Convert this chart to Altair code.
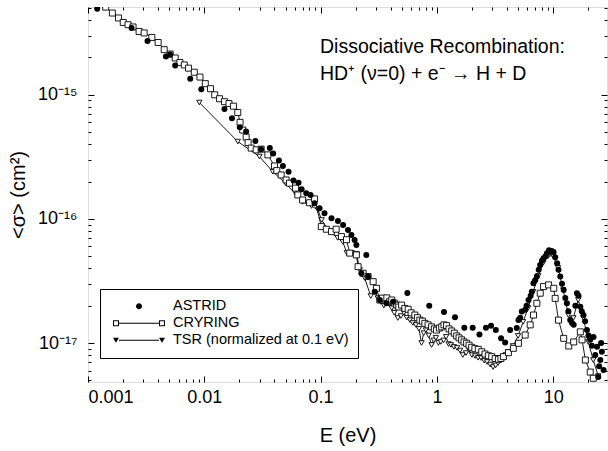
import altair as alt
import pandas as pd

# ---------------- data ----------------
E_astrid = [0.00120, 0.00237, 0.00325, 0.00468, 0.00509, 0.00562, 0.00757, 0.00942,
            0.0149, 0.0173, 0.0202, 0.0229, 0.0275, 0.0308, 0.0366, 0.0391, 0.0438,
            0.0474, 0.0530, 0.0585, 0.0646, 0.0686, 0.0753, 0.0820, 0.0887, 0.0980,
            0.108, 0.124, 0.141, 0.156, 0.172, 0.184, 0.196, 0.203, 0.224, 0.247,
            0.256, 0.292, 0.323, 0.368, 0.420, 0.557, 0.859, 1.15, 1.43, 1.72, 2.03,
            2.32, 2.64, 2.92, 3.21, 3.56, 3.86, 4.26, 4.86, 5.02, 5.37, 5.74, 6.13,
            6.55, 6.76, 7.23, 7.72, 8.25, 8.83, 9.42, 10.07, 10.8, 11.5, 12.3, 13.1,
            14.0, 15.0, 16.0, 17.1, 18.2, 19.5, 20.8, 22.2, 23.8, 25.4, 27.1, 24.4,
            5.2, 5.9, 6.4, 7.0, 7.5, 8.0, 8.6, 9.2, 9.7, 10.4, 11.1, 11.9, 12.7,
            13.5, 14.5, 15.5, 16.5, 17.6, 18.8, 20.1, 21.5, 23.0, 24.8, 26.2, 25.8]
sig_astrid = [4.94e-15, 3.45e-15, 2.72e-15, 2.04e-15, 2.11e-15, 1.72e-15, 1.35e-15, 1.11e-15,
              7.68e-16, 6.48e-16, 5.47e-16, 5.06e-16, 4.24e-16, 3.65e-16, 3.72e-16, 3.36e-16, 2.96e-16,
              2.67e-16, 2.40e-16, 2.04e-16, 1.96e-16, 1.73e-16, 1.61e-16, 1.56e-16, 1.34e-16, 1.22e-16,
              1.11e-16, 1.01e-16, 9.64e-17, 8.95e-17, 8.15e-17, 7.43e-17, 6.77e-17, 6.17e-17, 3.65e-17, 5.13e-17,
              3.43e-17, 2.59e-17, 2.22e-17, 2.09e-17, 2.15e-17, 2.53e-17, 2.00e-17, 1.78e-17, 1.61e-17, 1.33e-17, 1.33e-17,
              1.17e-17, 1.33e-17, 1.38e-17, 1.27e-17, 1.09e-17, 1.01e-17, 1.27e-17, 1.32e-17, 1.53e-17, 1.79e-17, 1.85e-17, 2.22e-17,
              2.59e-17, 3.03e-17, 3.43e-17, 4.26e-17, 4.82e-17, 5.28e-17, 5.45e-17, 5.42e-17, 4.40e-17, 3.43e-17, 2.67e-17, 2.09e-17,
              1.53e-17, 1.40e-17, 2.52e-17, 1.96e-17, 1.68e-17, 1.27e-17, 1.06e-17, 1.12e-17, 9.33e-18, 7.29e-18, 6.05e-18, 5.32e-18,
              1.6e-17, 2.0e-17, 2.4e-17, 3.2e-17, 3.9e-17, 4.6e-17, 5.0e-17, 5.6e-17, 5.5e-17, 4.9e-17, 3.9e-17, 3.0e-17, 2.3e-17,
              1.8e-17, 1.45e-17, 2.0e-17, 2.4e-17, 1.8e-17, 1.5e-17, 1.15e-17, 9.5e-18, 8.0e-18, 6.5e-18, 8.5e-18, 1.0e-17]

E_cryring = [0.00124, 0.00142, 0.00162, 0.00183, 0.00201, 0.00221, 0.00244, 0.00275, 0.00304, 0.00354,
             0.00401, 0.00452, 0.00509, 0.00562, 0.00617, 0.00673, 0.00732, 0.00820, 0.00918, 0.0102,
             0.0113, 0.0123, 0.0135, 0.0149, 0.0163, 0.0178, 0.0194, 0.0203, 0.0214, 0.0229,
             0.0238, 0.0253, 0.0279, 0.0308, 0.0352, 0.0401, 0.0420, 0.0458, 0.0505, 0.0540,
             0.0608, 0.0637, 0.0700, 0.0804, 0.0887, 0.1014, 0.112, 0.124, 0.136, 0.151,
             0.167, 0.178, 0.203, 0.210, 0.232, 0.256, 0.283, 0.302, 0.323, 0.371,
             0.409, 0.452, 0.497, 0.566, 0.646, 0.713, 0.788, 0.900, 0.993, 1.10,
             1.21, 1.34, 1.48, 1.63, 1.80, 1.99, 2.27, 2.59, 2.96, 3.38,
             3.73, 4.12, 4.54, 5.02, 5.74, 6.34, 6.77, 7.23, 7.73, 8.26,
             9.12, 10.1, 10.4, 11.1, 12.3, 13.6, 15.0, 17.1, 17.7, 18.9,
             20.8, 22.1,
             0.34, 0.39, 0.43, 0.47, 0.53, 0.60, 0.68, 0.75, 0.84, 0.95,
             1.05, 1.15, 1.27, 1.41, 1.55, 1.71, 1.89, 2.12, 2.43, 2.77,
             3.17, 3.55]
sig_cryring = [5.5e-15, 5.09e-15, 4.56e-15, 4.16e-15, 3.83e-15, 3.67e-15, 3.52e-15, 3.24e-15, 3.15e-15, 2.90e-15,
               2.64e-15, 2.31e-15, 2.13e-15, 1.98e-15, 1.82e-15, 1.74e-15, 1.64e-15, 1.52e-15, 1.39e-15, 1.23e-15,
               1.12e-15, 1.0e-15, 9.3e-16, 8.8e-16, 8.5e-16, 8.1e-16, 7.2e-16, 6.0e-16, 5.2e-16, 4.56e-16,
               4.12e-16, 3.72e-16, 3.60e-16, 3.65e-16, 3.28e-16, 2.67e-16, 2.45e-16, 2.26e-16, 2.06e-16, 1.94e-16,
               1.77e-16, 1.56e-16, 1.42e-16, 1.35e-16, 1.45e-16, 8.67e-17, 8.26e-17, 7.90e-17, 8.26e-17, 7.2e-17,
               6.8e-17, 5.3e-17, 5.13e-17, 4.12e-17, 3.65e-17, 3.43e-17, 3.12e-17, 2.76e-17, 2.22e-17, 2.31e-17,
               2.22e-17, 2.02e-17, 2.02e-17, 1.87e-17, 1.68e-17, 1.53e-17, 1.44e-17, 1.35e-17, 1.27e-17, 1.35e-17,
               1.38e-17, 1.25e-17, 1.14e-17, 1.06e-17, 9.95e-18, 9.23e-18, 8.89e-18, 8.15e-18, 7.76e-18, 7.39e-18,
               7.76e-18, 8.36e-18, 9.06e-18, 9.95e-18, 1.16e-17, 1.40e-17, 1.68e-17, 2.09e-17, 2.52e-17, 2.85e-17,
               2.94e-17, 2.76e-17, 2.29e-17, 1.53e-17, 1.09e-17, 9.46e-18, 1.02e-17, 1.23e-17, 1.06e-17, 7.29e-18,
               5.83e-18, 5.2e-18,
               2.3e-17, 2.15e-17, 2.1e-17, 1.95e-17, 1.9e-17, 1.75e-17, 1.6e-17, 1.5e-17, 1.4e-17, 1.3e-17,
               1.32e-17, 1.4e-17, 1.3e-17, 1.2e-17, 1.1e-17, 1.02e-17, 9.6e-18, 9.0e-18, 8.5e-18, 7.9e-18,
               7.5e-18, 7.5e-18]

E_tsr = [0.00906, 0.0194, 0.0298, 0.0388, 0.0499, 0.0618, 0.0700, 0.0835, 0.0950, 0.102,
         0.120, 0.140, 0.155, 0.168, 0.185, 0.204, 0.217, 0.239, 0.270, 0.298,
         0.329, 0.363, 0.409, 0.461, 0.520, 0.585, 0.659, 0.738, 0.804, 0.900,
         0.980, 1.08, 1.20, 1.32, 1.49, 1.67, 1.89, 2.13, 2.40, 2.70,
         3.04, 3.36, 3.71, 4.10, 4.52, 4.99, 5.51, 6.08, 6.72, 7.43,
         8.21, 9.06, 10.0, 11.0, 12.2, 13.5, 14.9, 16.4, 18.2, 20.0,
         22.1, 24.4,
         0.31, 0.35, 0.39, 0.43, 0.49, 0.55, 0.62, 0.70, 0.77, 0.85,
         0.94, 1.03, 1.14, 1.26, 1.40, 1.58, 1.78, 2.00, 2.26, 2.55,
         2.87, 3.20, 3.53, 3.90]
sig_tsr = [8.67e-16, 4.20e-16, 3.18e-16, 2.40e-16, 1.94e-16, 1.56e-16, 1.37e-16, 1.27e-16, 1.18e-16, 9.8e-17,
           7.85e-17, 7.03e-17, 6.53e-17, 5.32e-17, 5.32e-17, 5.22e-17, 3.88e-17, 3.34e-17, 2.39e-17, 2.58e-17,
           2.14e-17, 2.22e-17, 1.91e-17, 1.59e-17, 1.75e-17, 1.53e-17, 1.40e-17, 1.0e-17, 1.27e-17, 9.64e-18,
           1.10e-17, 1.02e-17, 1.12e-17, 9.64e-18, 9.12e-18, 8.00e-18, 8.79e-18, 7.85e-18, 7.56e-18, 7.03e-18,
           6.40e-18, 6.90e-18, 7.56e-18, 8.45e-18, 9.46e-18, 1.14e-17, 1.48e-17, 1.91e-17, 2.58e-17, 3.47e-17,
           4.42e-17, 5.03e-17, 5.03e-17, 4.03e-17, 2.67e-17, 1.68e-17, 1.59e-17, 2.22e-17, 1.59e-17, 1.02e-17,
           7.29e-18, 5.42e-18,
           2.3e-17, 2.0e-17, 2.05e-17, 1.75e-17, 1.65e-17, 1.6e-17, 1.45e-17, 1.3e-17, 1.2e-17, 1.15e-17,
           1.05e-17, 1.0e-17, 1.05e-17, 9.8e-18, 9.3e-18, 8.7e-18, 8.3e-18, 8.0e-18, 7.6e-18, 7.2e-18,
           6.7e-18, 6.6e-18, 7.2e-18, 8.0e-18]

series_names = ["ASTRID", "CRYRING", "TSR (normalized at 0.1 eV)"]
x_major = [0.001, 0.01, 0.1, 1, 10]
y_major = [1e-17, 1e-16, 1e-15]
title_line1 = "Dissociative Recombination:"
title_line2 = "HD\u207a (\u03bd=0) + e\u207b \u2192 H + D"

# ---------------- frames ----------------
astrid = pd.DataFrame({"E": E_astrid, "sigma": sig_astrid, "series": series_names[0]})
cryring = pd.DataFrame({"E": E_cryring, "sigma": sig_cryring, "series": series_names[1]}).sort_values("E")
tsr = pd.DataFrame({"E": E_tsr, "sigma": sig_tsr, "series": series_names[2]}).sort_values("E")
alldata = pd.concat([astrid, cryring, tsr], ignore_index=True)

FONT = "Liberation Sans"
W, H = 519, 375

x_minor = [k * 10.0 ** d for d in range(-3, 2) for k in range(2, 10) if k * 10.0 ** d <= 29]
y_minor = [k * 10.0 ** d for d in range(-18, -14) for k in range(2, 10)
           if 4.85e-18 <= k * 10.0 ** d <= 5.1e-15]

xscale = alt.Scale(type="log", domain=[0.001, 29], nice=False)
yscale = alt.Scale(type="log", domain=[4.85e-18, 5.1e-15], nice=False)


def tick_axis(orient, offset, values, size):
    return alt.Axis(orient=orient, offset=offset, values=values, tickSize=size,
                    tickColor="black", tickWidth=1, labels=False, domain=False,
                    grid=False, title="")


ax_x_lab = alt.Axis(orient="bottom", values=x_major, format="~g", tickSize=0, domain=False,
                    grid=False, labelFont=FONT, labelFontSize=18, labelColor="black",
                    labelPadding=6, title="E (eV)", titleFont=FONT, titleFontSize=20,
                    titleFontWeight="normal", titleColor="black", titlePadding=19)
ax_y_lab = alt.Axis(orient="left", values=y_major, tickSize=0, domain=False, grid=False,
                    labelExpr="'10' + (datum.value < 5e-17 ? '\u207b\u00b9\u2077' : "
                              "datum.value < 5e-16 ? '\u207b\u00b9\u2076' : '\u207b\u00b9\u2075')",
                    labelFont=FONT, labelFontSize=18, labelColor="black", labelPadding=11,
                    title="<\u03c3> (cm\u00b2)", titleFont=FONT, titleFontSize=20,
                    titleFontWeight="normal", titleColor="black", titlePadding=9)


def enc(xax, yax):
    return dict(
        x=alt.X("E:Q", scale=xscale, axis=xax),
        y=alt.Y("sigma:Q", scale=yscale, axis=yax),
    )


tsr_line = alt.Chart(tsr).mark_line(color="black", strokeWidth=0.9, clip=True).encode(
    **enc(ax_x_lab, ax_y_lab))
tsr_pts = alt.Chart(tsr).mark_point(shape="triangle-down", size=28, filled=False, fill="white",
                                    stroke="black", strokeWidth=0.9, opacity=1, clip=True).encode(
    **enc(tick_axis("top", -H, x_major, 6), tick_axis("right", -W, y_major, 6)))
cry_line = alt.Chart(cryring).mark_line(color="black", strokeWidth=0.9, clip=True).encode(
    **enc(tick_axis("top", -H, x_minor, 3), tick_axis("right", -W, y_minor, 3)))
cry_pts = alt.Chart(cryring).mark_point(shape="square", size=36, filled=False, fill="white",
                                        stroke="black", strokeWidth=0.9, opacity=1, clip=True).encode(
    **enc(tick_axis("bottom", -H, x_major, 6), tick_axis("left", -W, y_major, 6)))
ast_pts = alt.Chart(astrid).mark_circle(size=36, color="black", opacity=1, clip=True).encode(
    **enc(tick_axis("bottom", -H, x_minor, 3), tick_axis("left", -W, y_minor, 3)))

# legend symbols: line + markers drawn as filled paths (unit = 26 px)
p_ast = "M-0.115,0A0.115,0.115 0 1,0 0.115,0A0.115,0.115 0 1,0 -0.115,0Z"
p_line = "M-0.77,-0.019H0.77V0.019H-0.77Z"
p_cry = (p_line +
         "M-1,-0.115H-0.77V0.115H-1Z M-0.962,-0.077V0.077H-0.808V-0.077Z"
         "M0.77,-0.115H1V0.115H0.77Z M0.808,-0.077V0.077H0.962V-0.077Z")
p_tsr = (p_line +
         "M-1,-0.1H-0.77L-0.885,0.1Z M0.77,-0.1H1L0.885,0.1Z")

legend_layer = alt.Chart(alldata).mark_point(opacity=0, filled=True, color="black").encode(
    x=alt.X("E:Q", scale=xscale, axis=None),
    y=alt.Y("sigma:Q", scale=yscale, axis=None),
    shape=alt.Shape("series:N",
                    scale=alt.Scale(domain=series_names, range=[p_ast, p_cry, p_tsr]),
                    legend=alt.Legend(title=None, orient="none", legendX=12, legendY=282,
                                      direction="vertical", strokeColor="black",
                                      fillColor="white", padding=9, symbolSize=2704,
                                      symbolOffset=4, symbolStrokeWidth=0,
                                      symbolFillColor="black", symbolOpacity=1,
                                      labelOffset=8, labelFont=FONT, labelFontSize=14.5,
                                      labelColor="black", clipHeight=16.5, rowPadding=0,
                                      labelLimit=400, cornerRadius=0)),
)

t1 = alt.Chart(pd.DataFrame({"t": [title_line1]})).mark_text(
    font=FONT, fontSize=19.5, color="black", align="left", baseline="alphabetic").encode(
    x=alt.value(232), y=alt.value(46), text="t:N")
t2 = alt.Chart(pd.DataFrame({"t": [title_line2]})).mark_text(
    font=FONT, fontSize=19.5, color="black", align="left", baseline="alphabetic").encode(
    x=alt.value(232), y=alt.value(73), text="t:N")

chart = alt.layer(tsr_line, tsr_pts, cry_line, cry_pts, ast_pts, legend_layer, t1, t2).resolve_axis(
    x="independent", y="independent"
).properties(
    width=W, height=H,
    autosize=alt.AutoSizeParams(type="none"),
    padding={"left": 88, "top": 7, "right": 1, "bottom": 69},
    background="white",
).configure_view(stroke="black", strokeWidth=1).configure(font=FONT)

chart.save("out.html", embed_options={"renderer": "svg", "actions": False})
